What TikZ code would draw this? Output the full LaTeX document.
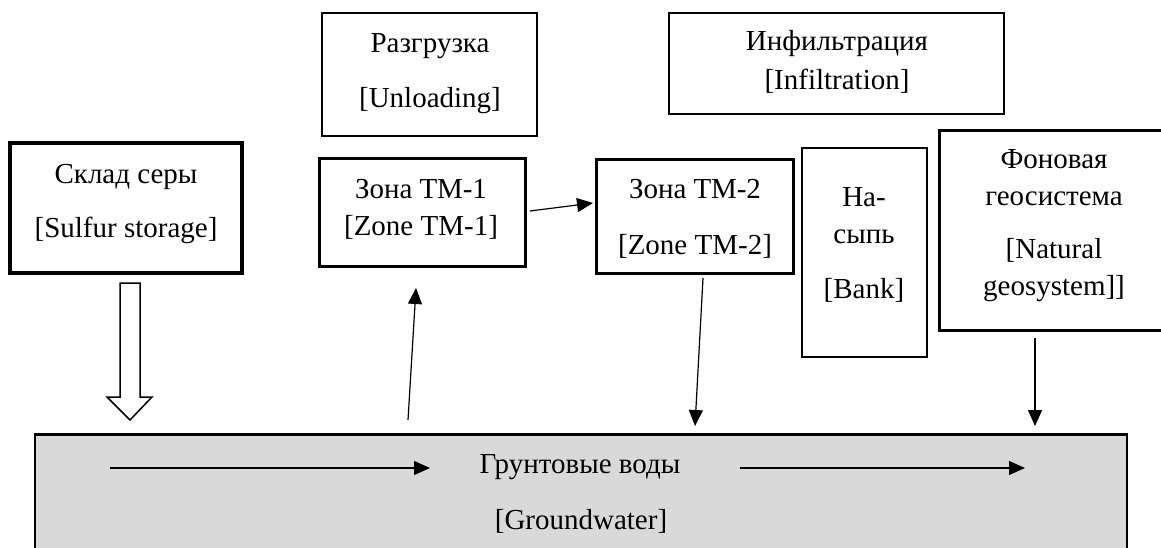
\documentclass[tikz,border=0pt]{standalone}
\usepackage{fontspec}
\setmainfont{Liberation Serif}
\usetikzlibrary{arrows.meta}

\tikzset{
  box/.style={draw, line width=1.6pt, inner sep=0pt, outer sep=0pt},
  thickbox/.style={box, line width=3pt},
  lbl/.style={anchor=base, inner sep=0pt, font=\fontsize{29}{34}\selectfont},
  flow/.style={line width=1.2pt, -{Triangle[length=16pt,width=14pt]}}
}

\begin{document}
\begin{tikzpicture}[x=1pt, y=-1pt]
\useasboundingbox (0,0) rectangle (1161,548);
\clip (0,0) rectangle (1161,548);
% boxes
\node[box, line width=4.5pt, minimum width=232pt, minimum height=130pt] (sulfur) at (126,208) {};
\node[box, minimum width=215pt, minimum height=123pt] (unload) at (429.5,74.5) {};
\node[thickbox, minimum width=206pt, minimum height=107pt] (tm1) at (422,212.5) {};
\node[thickbox, minimum width=197pt, minimum height=113pt] (tm2) at (694.5,216.5) {};
\node[box, minimum width=335pt, minimum height=101pt] (infil) at (836.5,63.5) {};
\node[box, minimum width=125pt, minimum height=209pt] (bank) at (864.5,252.5) {};
\node[thickbox, minimum width=228pt, minimum height=199pt] (geo) at (1053,230.5) {};
\node[box, line width=2pt, fill=black!15, minimum width=1092pt, minimum height=126pt] (ground) at (581,497) {};
\draw[line width=3pt] (ground.north west) -- (ground.north east);
% texts
\node[lbl] (sulfur-ru) at (126,184) {Склад серы};
\node[lbl] (sulfur-en) at (126,237) {[Sulfur storage]};
\node[lbl] (unload-ru) at (430,53) {Разгрузка};
\node[lbl] (unload-en) at (430,108) {[Unloading]};
\node[lbl] (tm1-ru) at (421,199) {Зона ТМ-1};
\node[lbl] (tm1-en) at (421,235) {[Zone TM-1]};
\node[lbl] (tm2-ru) at (695,198) {Зона ТМ-2};
\node[lbl] (tm2-en) at (695,254) {[Zone TM-2]};
\node[lbl] (infil-ru) at (837,51) {Инфильтрация};
\node[lbl] (infil-en) at (837,90) {[Infiltration]};
\node[lbl] (bank-ru1) at (864,207) {На-};
\node[lbl] (bank-ru2) at (864,243) {сыпь};
\node[lbl] (bank-en) at (864,298) {[Bank]};
\node[lbl] (geo-ru1) at (1054,168) {Фоновая};
\node[lbl] (geo-ru2) at (1054,205) {геосистема};
\node[lbl] (geo-en1) at (1054,258) {[Natural};
\node[lbl] (geo-en2) at (1054,295) {geosystem]]};
\node[lbl] (ground-ru) at (580,473) {Грунтовые воды};
\node[lbl] (ground-en) at (581,529) {[Groundwater]};
% arrow ends
\coordinate (up-s) at (408,420);
\coordinate (up-e) at (416,288);
\coordinate (tm1-out) at (530,211);
\coordinate (tm2-in) at (593,203);
\coordinate (tm2-out) at (703,278);
\coordinate (tm2-down) at (695,426);
\coordinate (geo-out) at (1035,338);
\coordinate (geo-down) at (1035,426);
\coordinate (gw1-s) at (110,468);
\coordinate (gw1-e) at (430,468);
\coordinate (gw2-s) at (740,468);
\coordinate (gw2-e) at (1025,468);
% arrows
\draw[flow] (up-s) -- (up-e);
\draw[flow] (tm1-out) -- (tm2-in);
\draw[flow] (tm2-out) -- (tm2-down);
\draw[flow] (geo-out) -- (geo-down);
\draw[flow] (gw1-s) -- (gw1-e);
\draw[flow] (gw2-s) -- (gw2-e);
% hollow arrow from storage
\draw[line width=1.5pt, fill=white] (120,283) -- (140,283) -- (140,397) -- (152,397)
  -- (130,420) -- (107,397) -- (120,397) -- cycle;
\end{tikzpicture}
\end{document}
